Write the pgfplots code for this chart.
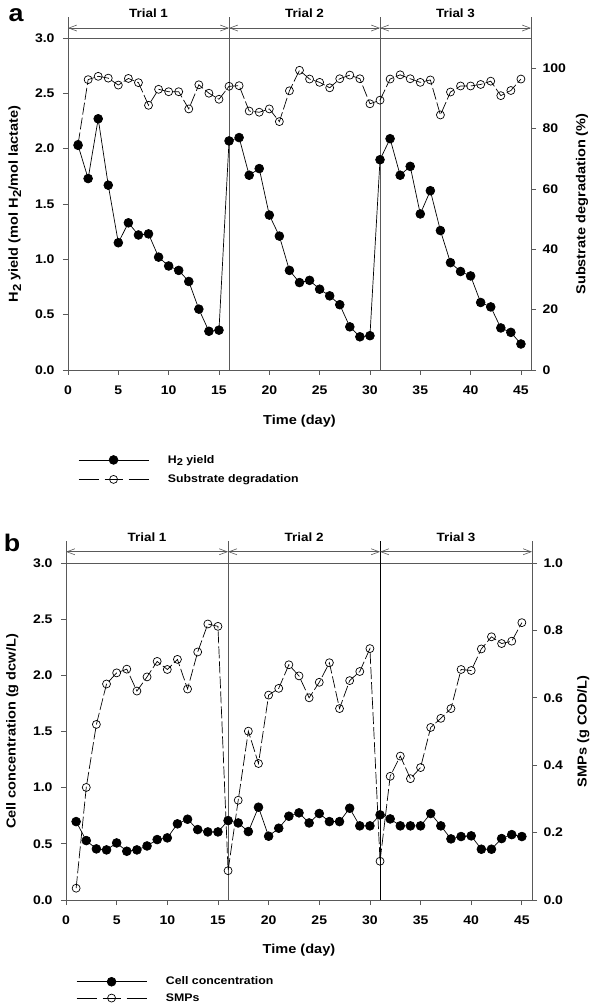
\documentclass[border=0pt]{standalone}
\usepackage{pgfplots}
\pgfplotsset{compat=1.18}
\usepackage{pgfplotstable}
\usepackage{fontspec}
\setmainfont{Liberation Sans}[FakeStretch=1.12]
\usetikzlibrary{arrows.meta}
\definecolor{axgray}{gray}{0.35}
\newcommand{\sub}[1]{\raisebox{-0.45ex}{\scalebox{0.9}{#1}}}

\pgfplotstableread{
d h s
1 2.03 74.8
2 1.73 96.2
3 2.27 97.3
4 1.67 96.7
5 1.15 94.4
6 1.33 96.6
7 1.22 95.2
8 1.23 87.7
9 1.02 93.0
10 0.94 92.2
11 0.90 92.2
12 0.80 86.5
13 0.55 94.5
14 0.35 91.7
15 0.36 89.7
16 2.07 94.0
17 2.10 94.2
18 1.76 85.8
19 1.82 85.4
20 1.40 86.5
21 1.21 82.3
22 0.90 92.5
23 0.79 99.3
24 0.81 96.4
25 0.73 95.3
26 0.67 93.5
27 0.59 96.5
28 0.39 97.7
29 0.30 96.5
30 0.31 88.2
31 1.90 89.4
32 2.09 96.4
33 1.76 97.8
34 1.84 96.5
35 1.41 95.3
36 1.62 96.1
37 1.26 84.5
38 0.97 92.1
39 0.89 94.1
40 0.85 94.1
41 0.61 94.6
42 0.57 95.7
43 0.38 90.9
44 0.34 92.6
45 0.235 96.4
}\tableA

\pgfplotstableread{
d c m
1 0.698 0.035
2 0.529 0.334
3 0.455 0.521
4 0.446 0.641
5 0.508 0.674
6 0.434 0.685
7 0.446 0.620
8 0.481 0.662
9 0.538 0.708
10 0.553 0.684
11 0.678 0.714
12 0.719 0.626
13 0.627 0.736
14 0.606 0.819
15 0.606 0.812
16 0.707 0.087
17 0.686 0.296
18 0.609 0.501
19 0.826 0.405
20 0.568 0.608
21 0.639 0.628
22 0.746 0.698
23 0.776 0.665
24 0.686 0.600
25 0.770 0.646
26 0.698 0.704
27 0.698 0.568
28 0.817 0.651
29 0.660 0.678
30 0.660 0.746
31 0.758 0.115
32 0.722 0.367
33 0.660 0.427
34 0.660 0.360
35 0.660 0.393
36 0.770 0.512
37 0.660 0.539
38 0.544 0.568
39 0.565 0.684
40 0.571 0.681
41 0.452 0.745
42 0.452 0.781
43 0.547 0.761
44 0.582 0.768
45 0.565 0.823
}\tableB

\pgfplotsset{
  base/.style={scale only axis, clip=false,
    xmin=0, xmax=46, ymin=0, ymax=3,
    tick align=outside, major tick length=5pt,
    /pgf/number format/assume math mode=true,
    axis line style={axgray, line width=0.8pt},
    every tick/.style={axgray, line width=0.8pt},
    ticklabel style={font=\fontsize{12.5}{14}\selectfont\bfseries},
    label style={font=\fontsize{13}{15}\selectfont\bfseries},
  },
  leftax/.style={base,
    xtick={0,5,...,45}, xtick pos=bottom, ytick pos=left,
    xticklabels={0,5,10,15,20,25,30,35,40,45},
    ytick={0,0.5,...,3}, yticklabels={0.0,0.5,1.0,1.5,2.0,2.5,3.0},
    xticklabel style={yshift=-7pt}, yticklabel style={xshift=-5pt},
    xlabel={Time (day)},
    ylabel style={at={(axis description cs:-0.115,0.5)}, anchor=center},
    legend style={draw=none, fill=none, inner sep=0pt,
      font=\fontsize{11}{13}\selectfont\bfseries,
      row sep=6pt, cells={anchor=west},
      /tikz/every odd column/.append style={column sep=17pt}},
    legend image code/.code={\draw[mark repeat=2,mark phase=2,##1] plot coordinates {(0pt,0pt) (35pt,0pt) (70pt,0pt)};},
  },
  rightax/.style={base, axis x line=none, axis y line*=right,
    yticklabel style={xshift=3pt},
    ylabel style={at={(axis description cs:1.11,0.5)}, anchor=center},
  },
  fser/.style={black, line width=0.7pt, mark=*, mark size=4.4pt, mark options={solid, fill=black}},
  oser/.style={black, line width=0.7pt, dash pattern=on 12pt off 3pt, mark=o, mark size=4pt, mark options={solid, fill=white, line width=0.7pt}},
  oleg/.style={oser, dash pattern=on 20pt off 6pt on 18pt off 6pt},
}

\begin{document}
\begin{tikzpicture}[x=1pt,y=1pt]
\path[use as bounding box] (0,0) rectangle (600,1005);

% ---------- panel a ----------
\begin{axis}[leftax, at={(68pt,635pt)}, anchor=south west, width=463pt, height=332pt,
  xlabel style={at={(axis description cs:0.5,-0.155)}, anchor=center},
  ylabel={H\sub{2} yield (mol H\sub{2}/mol lactate)},
  legend style={at={(axis description cs:0.0216,-0.25)}, anchor=north west}]
\addplot[fser] table[x=d, y=h] {\tableA};
\addlegendentry{H\sub{2} yield}
\addlegendimage{oleg}
\addlegendentry{Substrate degradation}
\draw[axgray, line width=0.8pt] (axis cs:0,3) -- (axis cs:0,3.19);
\draw[axgray, line width=0.8pt] (axis cs:46,3) -- (axis cs:46,3.19);
\draw[axgray, line width=0.8pt] (axis cs:16,0) -- (axis cs:16,3.19);
\draw[axgray, line width=0.8pt] (axis cs:31,0) -- (axis cs:31,3.19);
\draw[axgray, line width=0.6pt, {Straight Barb[length=8pt,width=6pt]}-{Straight Barb[length=8pt,width=6pt]}] (axis cs:0,3.09) -- (axis cs:16,3.09);
\draw[axgray, line width=0.6pt, {Straight Barb[length=8pt,width=6pt]}-{Straight Barb[length=8pt,width=6pt]}] (axis cs:16,3.09) -- (axis cs:31,3.09);
\draw[axgray, line width=0.6pt, {Straight Barb[length=8pt,width=6pt]}-{Straight Barb[length=8pt,width=6pt]}] (axis cs:31,3.09) -- (axis cs:46,3.09);
\node[font=\fontsize{12}{14}\selectfont\bfseries] at (axis cs:8,3.226) {Trial 1};
\node[font=\fontsize{12}{14}\selectfont\bfseries] at (axis cs:23.5,3.226) {Trial 2};
\node[font=\fontsize{12}{14}\selectfont\bfseries] at (axis cs:38.5,3.226) {Trial 3};
\end{axis}
\begin{axis}[rightax, at={(68pt,635pt)}, anchor=south west, width=463pt, height=332pt,
  ymin=0, ymax=110, ytick={0,20,...,100}, yticklabels={0,20,40,60,80,100},
  ylabel={Substrate degradation (\%)}]
\addplot[oser] table[x=d, y=s] {\tableA};
\end{axis}

% ---------- panel b ----------
\begin{axis}[leftax, at={(66pt,105pt)}, anchor=south west, width=466pt, height=337pt,
  xlabel style={at={(axis description cs:0.5,-0.148)}, anchor=center},
  ylabel={Cell concentration (g dcw/L)},
  legend style={at={(axis description cs:0.0215,-0.222)}, anchor=north west, row sep=3pt}]
\addplot[fser] table[x=d, y=c] {\tableB};
\addlegendentry{Cell concentration}
\addlegendimage{oleg}
\addlegendentry{SMPs}
\draw[axgray, line width=0.8pt] (axis cs:0,3) -- (axis cs:0,3.2);
\draw[axgray, line width=0.8pt] (axis cs:46,3) -- (axis cs:46,3.2);
\draw[axgray, line width=0.8pt] (axis cs:16,0) -- (axis cs:16,3.2);
\draw[black, line width=0.7pt] (axis cs:31,0) -- (axis cs:31,3.2);
\draw[axgray, line width=0.6pt, {Straight Barb[length=8pt,width=6pt]}-{Straight Barb[length=8pt,width=6pt]}] (axis cs:0,3.1) -- (axis cs:16,3.1);
\draw[axgray, line width=0.6pt, {Straight Barb[length=8pt,width=6pt]}-{Straight Barb[length=8pt,width=6pt]}] (axis cs:16,3.1) -- (axis cs:31,3.1);
\draw[axgray, line width=0.6pt, {Straight Barb[length=8pt,width=6pt]}-{Straight Barb[length=8pt,width=6pt]}] (axis cs:31,3.1) -- (axis cs:46,3.1);
\node[font=\fontsize{12}{14}\selectfont\bfseries] at (axis cs:8,3.23) {Trial 1};
\node[font=\fontsize{12}{14}\selectfont\bfseries] at (axis cs:23.5,3.23) {Trial 2};
\node[font=\fontsize{12}{14}\selectfont\bfseries] at (axis cs:38.5,3.23) {Trial 3};
\end{axis}
\begin{axis}[rightax, at={(66pt,105pt)}, anchor=south west, width=466pt, height=337pt,
  ymin=0, ymax=1, ytick={0,0.2,...,1.0}, yticklabels={0.0,0.2,0.4,0.6,0.8,1.0},
  ylabel={SMPs (g COD/L)}]
\addplot[oser] table[x=d, y=m] {\tableB};
\end{axis}

\node[font=\fontsize{24}{26}\selectfont\bfseries] at (16,990) {a};
\node[font=\fontsize{24}{26}\selectfont\bfseries] at (12,462) {b};
\end{tikzpicture}
\end{document}
